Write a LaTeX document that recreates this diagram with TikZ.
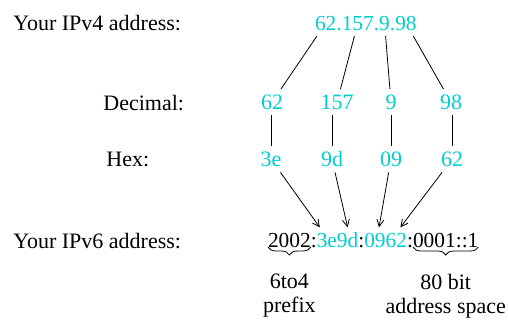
\documentclass[tikz,border=0pt]{standalone}
\usepackage{fontspec}
\setmainfont{Liberation Serif}
\usepackage{tikz}
\usetikzlibrary{arrows.meta, positioning, calc, decorations.pathreplacing}
\definecolor{addr}{RGB}{0, 206, 209}
\tikzset{
    rowlabel/.style={anchor=base west, inner sep=0pt},
    v4part/.style={anchor=base west, inner xsep=0pt, inner ysep=3pt, outer sep=0pt, text height=0.68em, text depth=0pt, text=addr, font=\fontsize{10.7}{12}\selectfont},
    v6part/.style={anchor=base west, inner xsep=0pt, inner ysep=3pt, outer sep=0pt, text height=0.68em, text depth=0pt, font=\fontsize{10.7}{12}\selectfont},
    num/.style={anchor=base, inner sep=3pt, text height=0.68em, text depth=0pt, text=addr},
    hexarrow/.style={-{Straight Barb[length=3.5pt, width=3.5pt]}},
    bracedown/.style={decorate, decoration={brace, amplitude=4pt}},
    note/.style={anchor=north, align=center, font=\fontsize{11}{12}\selectfont}
}
\begin{document}
\begin{tikzpicture}[x=0.5pt, y=-0.5pt, font=\fontsize{11}{12}\selectfont]
    \useasboundingbox (0,0) rectangle (508,321);

    % Row labels
    \node[rowlabel] (lv4) at (13,30) {Your IPv4 address:};
    \node[rowlabel] (ldec) at (103,110) {Decimal:};
    \node[rowlabel] (lhex) at (106,166) {Hex:};
    \node[rowlabel] (lv6) at (13,248) {Your IPv6 address:};

    % IPv4 address
    \node[v4part] (oct1) at (315,30) {62};
    \node[v4part] (dot1) at (oct1.base east) {.};
    \node[v4part] (oct2) at (dot1.base east) {157};
    \node[v4part] (dot2) at (oct2.base east) {.};
    \node[v4part] (oct3) at (dot2.base east) {9};
    \node[v4part] (dot3) at (oct3.base east) {.};
    \node[v4part] (oct4) at (dot3.base east) {98};

    % Decimal
    \node[num] (dec1) at (272,109) {62};
    \node[num] (dec2) at (337,109) {157};
    \node[num] (dec3) at (391,109) {9};
    \node[num] (dec4) at (451,109) {98};

    % Hex
    \node[num] (hex1) at (271,166) {3e};
    \node[num] (hex2) at (332,166) {9d};
    \node[num] (hex3) at (391,166) {09};
    \node[num] (hex4) at (452,166) {62};

    % IPv6 address
    \node[v6part] (pre) at (268,247) {2002};
    \node[v6part] (col1) at (pre.base east) {:};
    \node[v6part, text=addr] (h1) at (col1.base east) {3e};
    \node[v6part, text=addr] (h2) at (h1.base east) {9d};
    \node[v6part] (col2) at (h2.base east) {:};
    \node[v6part, text=addr] (h3) at (col2.base east) {09};
    \node[v6part, text=addr] (h4) at (h3.base east) {62};
    \node[v6part] (col3) at (h4.base east) {:};
    \node[v6part] (suf) at (col3.base east) {0001::1};

    % Lines
    \draw (oct1) -- (dec1);
    \draw (oct2) -- (dec2);
    \draw (oct3) -- (dec3);
    \draw (oct4) -- (dec4);
    \foreach \i in {1,...,4}
        \draw (dec\i.south -| hex\i) -- (hex\i);
    \draw[hexarrow] (hex1) -- ([xshift=-3.5pt]h1.north);
    \draw[hexarrow] (hex2) -- (h2.north);
    \draw[hexarrow] (hex3) -- ([xshift=2pt]h3.north);
    \draw[hexarrow] (hex4) -- ([xshift=2pt]h4.north);

    % Braces
    \draw[bracedown] (pre.base east) -- (pre.base west);
    \draw[bracedown] (suf.base east) -- (suf.base west);
    \node[note] (prefix) at ($(pre.base)+(0,20)$) {6to4\\prefix};
    \node[note] (space) at ($(suf.base)+(0,20)$) {80 bit\\address space};
\end{tikzpicture}
\end{document}
